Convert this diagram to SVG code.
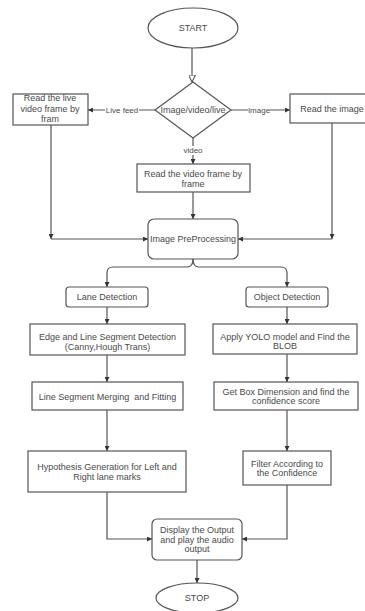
<svg xmlns="http://www.w3.org/2000/svg" width="365" height="611" viewBox="0 0 365 611">
<defs>
<style>
.s{fill:#fff;stroke:#555;stroke-width:1.2}
.c{fill:none;stroke:#555;stroke-width:1.2}
text{font-family:"Liberation Sans",Arial,sans-serif;font-size:9px;fill:#4a4a4a;text-anchor:middle}
text.l{font-size:8px;fill:#4a4a4a}
.bg{fill:#fff;stroke:none}
</style>
<marker id="a" viewBox="0 0 10 10" refX="10" refY="5" markerWidth="5" markerHeight="5" orient="auto" markerUnits="userSpaceOnUse">
<path d="M0,0L10,5L0,10z" fill="#333"/>
</marker>
<marker id="h" viewBox="0 0 10 10" refX="10" refY="5" markerWidth="7" markerHeight="7" orient="auto" markerUnits="userSpaceOnUse">
<path d="M0,0L10,5L0,10z" fill="#fff" stroke="#555" stroke-width="1.5"/>
</marker>
</defs>
<rect width="365" height="611" fill="#fff"/>
<g id="connectors">
<path class="c" d="M192,48V82" marker-end="url(#h)"/>
<path class="c" d="M155,110H88" marker-end="url(#a)"/>
<rect class="bg" x="105" y="105" width="34" height="10"/>
<text class="l" x="122" y="113">Live feed</text>
<path class="c" d="M231,110H290" marker-end="url(#a)"/>
<rect class="bg" x="248" y="105" width="22" height="10"/>
<text class="l" x="259" y="113">Image</text>
<path class="c" d="M193,138V164" marker-end="url(#a)"/>
<rect class="bg" x="183" y="146" width="20" height="9"/>
<text class="l" x="193" y="153">video</text>
<path class="c" d="M193,192V219" marker-end="url(#a)"/>
<path class="c" d="M51,125V239" marker-end="url(#a)"/>
<path class="c" d="M51,239H148" marker-end="url(#a)"/>
<path class="c" d="M332,123V239" marker-end="url(#a)"/>
<path class="c" d="M332,239H238" marker-end="url(#a)"/>
<path class="c" d="M193,259q0,8 -6,8H113q-6,0 -6,6V287" marker-end="url(#a)"/>
<path class="c" d="M193,259q0,8 6,8H281q6,0 6,6V287" marker-end="url(#a)"/>
<path class="c" d="M107,307V324" marker-end="url(#a)"/>
<path class="c" d="M107,355V382" marker-end="url(#a)"/>
<path class="c" d="M107,410V451" marker-end="url(#a)"/>
<path class="c" d="M287,307V324" marker-end="url(#a)"/>
<path class="c" d="M287,354V382" marker-end="url(#a)"/>
<path class="c" d="M287,410V451" marker-end="url(#a)"/>
<path class="c" d="M107,492V539H152" marker-end="url(#a)"/>
<path class="c" d="M287,485V539H242" marker-end="url(#a)"/>
<path class="c" d="M197,560V583" marker-end="url(#a)"/>
</g>
<g id="start">
<ellipse class="s" cx="193" cy="28" rx="45" ry="20"/>
<text x="193" y="31">START</text>
</g>
<g id="decision">
<polygon class="s" points="193,82 231,110 193,138 155,110"/>
<text x="193" y="113">Image/video/live</text>
</g>
<g id="read-live">
<rect class="s" x="13" y="94" width="75" height="31"/>
<text x="50" y="101">Read the live</text>
<text x="50" y="111.5">video frame by</text>
<text x="50" y="122">fram</text>
</g>
<g id="read-image">
<rect class="s" x="290" y="94" width="82" height="29"/>
<text x="332" y="112">Read the image</text>
</g>
<g id="read-video">
<rect class="s" x="137" y="164" width="113" height="28"/>
<text x="193" y="177">Read the video frame by</text>
<text x="193" y="186.5">frame</text>
</g>
<g id="preprocessing">
<rect class="s" x="148" y="219" width="90" height="40" rx="6"/>
<text x="193" y="242">Image PreProcessing</text>
</g>
<g id="lane-detection">
<rect class="s" x="66" y="287" width="82" height="20" rx="3"/>
<text x="107" y="300">Lane Detection</text>
</g>
<g id="object-detection">
<rect class="s" x="246" y="287" width="82" height="20" rx="3"/>
<text x="287" y="300">Object Detection</text>
</g>
<g id="edge">
<rect class="s" x="30" y="324" width="155" height="31"/>
<text x="107.5" y="340">Edge and Line Segment Detection</text>
<text x="107.5" y="349.5">(Canny,Hough Trans)</text>
</g>
<g id="merging">
<rect class="s" x="32" y="382" width="151" height="28"/>
<text x="107.5" y="400" xml:space="preserve">Line Segment Merging  and Fitting</text>
</g>
<g id="hypothesis">
<rect class="s" x="28" y="451" width="158" height="41"/>
<text x="107" y="470">Hypothesis Generation for Left and</text>
<text x="107" y="479.5">Right lane marks</text>
</g>
<g id="yolo">
<rect class="s" x="213" y="324" width="144" height="30"/>
<text x="285" y="340">Apply YOLO model and Find the</text>
<text x="285" y="349">BLOB</text>
</g>
<g id="box-dimension">
<rect class="s" x="214" y="382" width="144" height="28"/>
<text x="286" y="395">Get Box Dimension and find the</text>
<text x="286" y="404">confidence score</text>
</g>
<g id="filter">
<rect class="s" x="243" y="451" width="88" height="34"/>
<text x="287" y="467">Filter According to</text>
<text x="287" y="476">the Confidence</text>
</g>
<g id="display">
<rect class="s" x="152" y="519" width="90" height="41" rx="5"/>
<text x="197" y="533">Display the Output</text>
<text x="197" y="542.5">and play the audio</text>
<text x="197" y="552">output</text>
</g>
<g id="stop">
<ellipse class="s" cx="197" cy="598" rx="41" ry="15"/>
<text x="197" y="601">STOP</text>
</g>
</svg>
